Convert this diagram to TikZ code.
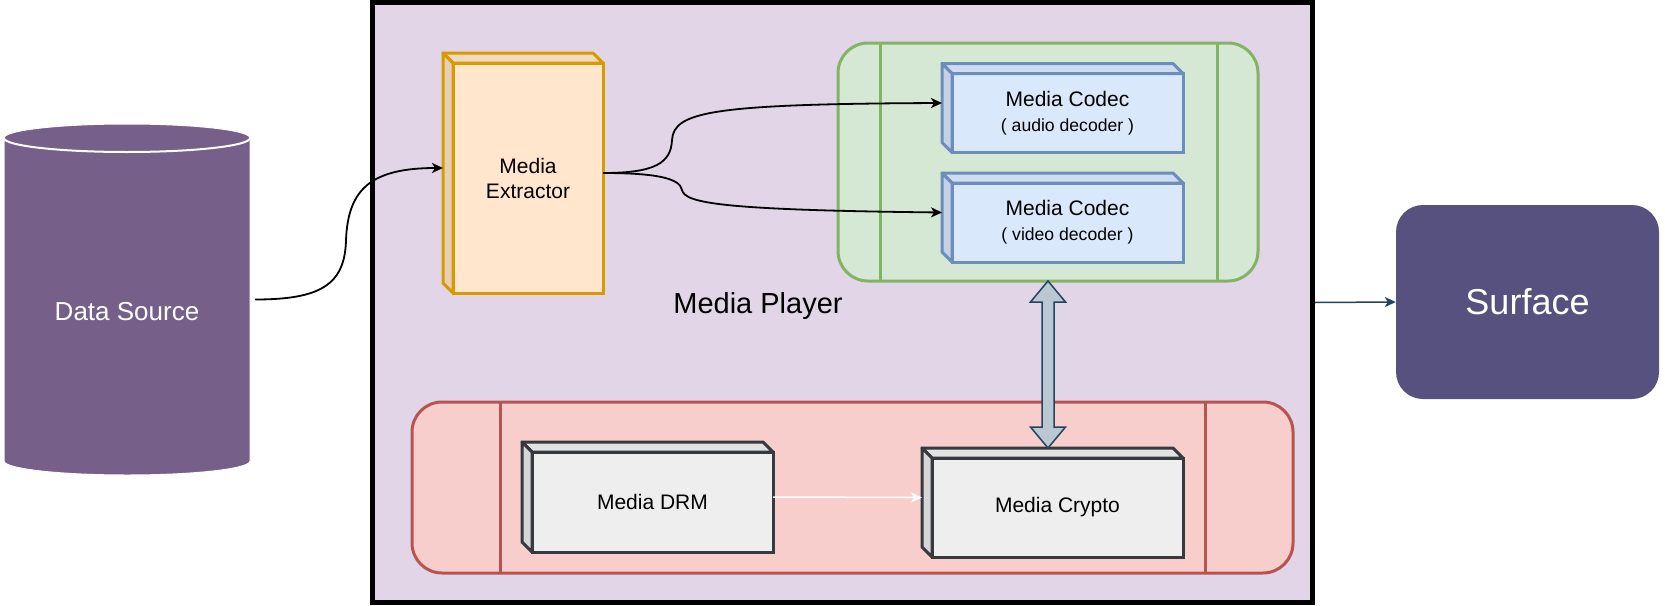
\documentclass[tikz,border=0pt]{standalone}
\usepackage{fontspec}
\setmainfont{Liberation Sans}
\usetikzlibrary{calc,positioning,arrows.meta}

\definecolor{playerfill}{HTML}{E1D5E7}
\definecolor{srcfill}{HTML}{76608A}
\definecolor{surffill}{HTML}{56517E}
\definecolor{extfill}{HTML}{FFE6CC}
\definecolor{extline}{HTML}{D79B00}
\definecolor{codecfill}{HTML}{D5E8D4}
\definecolor{codecline}{HTML}{82B366}
\definecolor{cdcfill}{HTML}{DAE8FC}
\definecolor{cdcline}{HTML}{6C8EBF}
\definecolor{cryptofill}{HTML}{F8CECC}
\definecolor{cryptoline}{HTML}{B85450}
\definecolor{drmfill}{HTML}{EEEEEE}
\definecolor{drmline}{HTML}{36393D}
\definecolor{linkfill}{HTML}{BAC8D3}
\definecolor{linkline}{HTML}{23445D}

\begin{document}
\begin{tikzpicture}[x=1pt,y=-1pt,>={Stealth[length=11pt,width=10pt,inset=3pt]},
	cubebox/.style={draw, line width=3pt, outer sep=0pt, align=center, font=\fontsize{21}{25}\selectfont},
	lane/.style={draw, line width=3pt, outer sep=0pt, rounded corners=30pt},
	flow/.style={->, line width=1.8pt}]
		\useasboundingbox[fill=white] (0,0) rectangle (1665,605);
		
		% media player frame
		\node [draw, line width=5pt, fill=playerfill, minimum width=940pt, minimum height=600pt] (player) at (842.5,302.5) {};
		\node [font=\fontsize{29}{34}\selectfont, anchor=base] (title) at (758,313) {Media Player};
		
		% data source
		\node [minimum width=246pt, minimum height=351pt] (src) at (127,299.5) {};
		\filldraw [fill=srcfill, draw=white, line width=1pt] (4,138) -- (4,461) arc[start angle=180, end angle=0, x radius=123, y radius=14] -- (250,138) arc[start angle=0, end angle=-180, x radius=123, y radius=14] -- cycle;
		\draw [white, line width=2pt] (4,138) arc[start angle=180, end angle=0, x radius=123, y radius=14];
		\node [text=white, font=\fontsize{26}{31}\selectfont] (srctext) at (127,312) {Data Source};
		
		% surface
		\node [fill=surffill, rounded corners=27pt, minimum width=263pt, minimum height=194pt, text=white, font=\fontsize{36}{43}\selectfont] (surf) at (1527.5,302) {Surface};
		
		% lanes
		\node [lane, draw=codecline, fill=codecfill, minimum width=420pt, minimum height=238pt] (codecs) at (1048,162) {};
		\node [lane, draw=cryptoline, fill=cryptofill, minimum width=881pt, minimum height=171pt] (sec) at (852.5,487.5) {};
		\draw [codecline, line width=3pt] ($(codecs.north west)+(42,0)$) -- ($(codecs.south west)+(42,0)$);
		\draw [codecline, line width=3pt] ($(codecs.north east)+(-41,0)$) -- ($(codecs.south east)+(-41,0)$);
		\draw [cryptoline, line width=3pt] ($(sec.north west)+(88,0)$) -- ($(sec.south west)+(88,0)$);
		\draw [cryptoline, line width=3pt] ($(sec.north east)+(-88,0)$) -- ($(sec.south east)+(-88,0)$);
		
		% blocks
		\node [cubebox, draw=extline, fill=extfill, minimum width=150pt, minimum height=230pt] (ext) at (528,178) {Media\\Extractor};
		\node [cubebox, draw=cdcline, fill=cdcfill, minimum width=231pt, minimum height=79pt] (cA) at (1067.5,113) {Media Codec\\{\fontsize{17.6}{21}\selectfont ( audio decoder )}};
		\node [cubebox, draw=cdcline, fill=cdcfill, minimum width=231pt, minimum height=79pt] (cV) [below=30.5pt of cA] {Media Codec\\{\fontsize{17.6}{21}\selectfont ( video decoder )}};
		\node [cubebox, draw=drmline, fill=drmfill, minimum width=241pt, minimum height=100pt] (drm) at (652.5,502) {Media DRM};
		\node [cubebox, draw=drmline, fill=drmfill, minimum width=251pt, minimum height=99pt] (cr) at (1057.5,507.5) {Media Crypto};
		
		\foreach \nm/\fc/\lc in {ext/extfill/extline, cA/cdcfill/cdcline, cV/cdcfill/cdcline, drm/drmfill/drmline, cr/drmfill/drmline} {
			\filldraw [fill=\fc!95!black, draw=\lc, line width=3pt, line join=round] (\nm.north west) -- ++(-10,-10) -- ($(\nm.north east)+(-10,-10)$) -- (\nm.north east) -- cycle;
			\filldraw [fill=\fc!90!black, draw=\lc, line width=3pt, line join=round] (\nm.north west) -- ++(-10,-10) -- ($(\nm.south west)+(-10,-10)$) -- (\nm.south west) -- cycle;
		}
		
		% connectors
		\draw [flow] ($(src.east)+(5,0)$) .. controls (320,299.5) and (345,285) .. (346,240) .. controls (348,190) and (370,168) .. ($(ext.west)+(-10,-10)$);
		\draw [flow] ($(ext.east)+(0,-5)$) .. controls (655,173) and (671,163) .. (672,140) .. controls (674,112) and (710,104) .. ($(cA.west)+(-10,-10)$);
		\draw [flow] ($(ext.east)+(0,-5)$) .. controls (655,173) and (680,178) .. (682,190) .. controls (685,203) and (720,210) .. ($(cV.west)+(-10,-10)$);
		\draw [->, white, line width=1.5pt] ($(drm.east)+(0,-5)$) -- ($(cr.west)+(-10,-10)$);
		\draw [->, linkline, line width=1.5pt] (player.east) -- (surf.west);
		
		\coordinate (dtop) at (codecs.south);
		\coordinate (dbot) at ($(codecs.south |- cr.north)+(0,-10)$);
		\filldraw [fill=linkfill, draw=linkline, line width=1.5pt] (dtop) -- ++(17.5,21) -- ++(-11.5,0) -- ($(dbot)+(6,-21)$) -- ++(11.5,0) -- (dbot) -- ++(-17.5,-21) -- ++(11.5,0) -- ($(dtop)+(-6,21)$) -- ++(-11.5,0) -- cycle;
\end{tikzpicture}
\end{document}
